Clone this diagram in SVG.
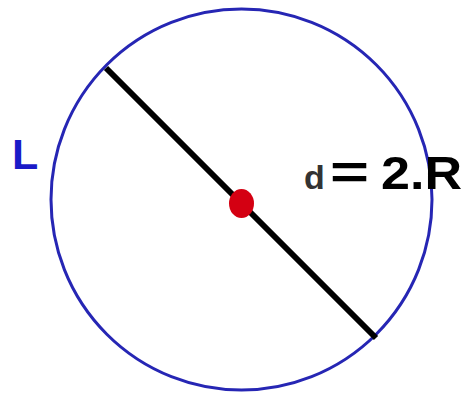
<svg xmlns="http://www.w3.org/2000/svg" width="466" height="395" viewBox="0 0 466 395">
<style>
.lbl{font-family:"Liberation Sans",Arial,sans-serif;font-weight:bold}
</style>
<rect width="466" height="395" fill="#ffffff"/>
<g id="circle">
<ellipse cx="241.5" cy="199.5" rx="190.5" ry="190.5" fill="none" stroke="#2626b4" stroke-width="3"/>
</g>
<g id="connectors">
<line x1="106" y1="68" x2="376" y2="338" stroke="#000000" stroke-width="6"/>
</g>
<g id="center">
<ellipse cx="241.5" cy="203.5" rx="12.5" ry="14.5" fill="#d40012"/>
</g>
<g id="label-L">
<text class="lbl" x="12" y="169" font-size="43" fill="#1a1ac8">L</text>
</g>
<g id="label-d">
<text class="lbl" x="304" y="189" font-size="34" fill="#333333">d</text>
<text class="lbl" x="330" y="189" font-size="48" fill="#000000" textLength="39" lengthAdjust="spacingAndGlyphs">=</text>
<text class="lbl" x="381" y="189" font-size="38" fill="#000000" textLength="81" lengthAdjust="spacingAndGlyphs" transform="translate(0,189) scale(1,1.2) translate(0,-189)">2.R</text>
</g>
</svg>
